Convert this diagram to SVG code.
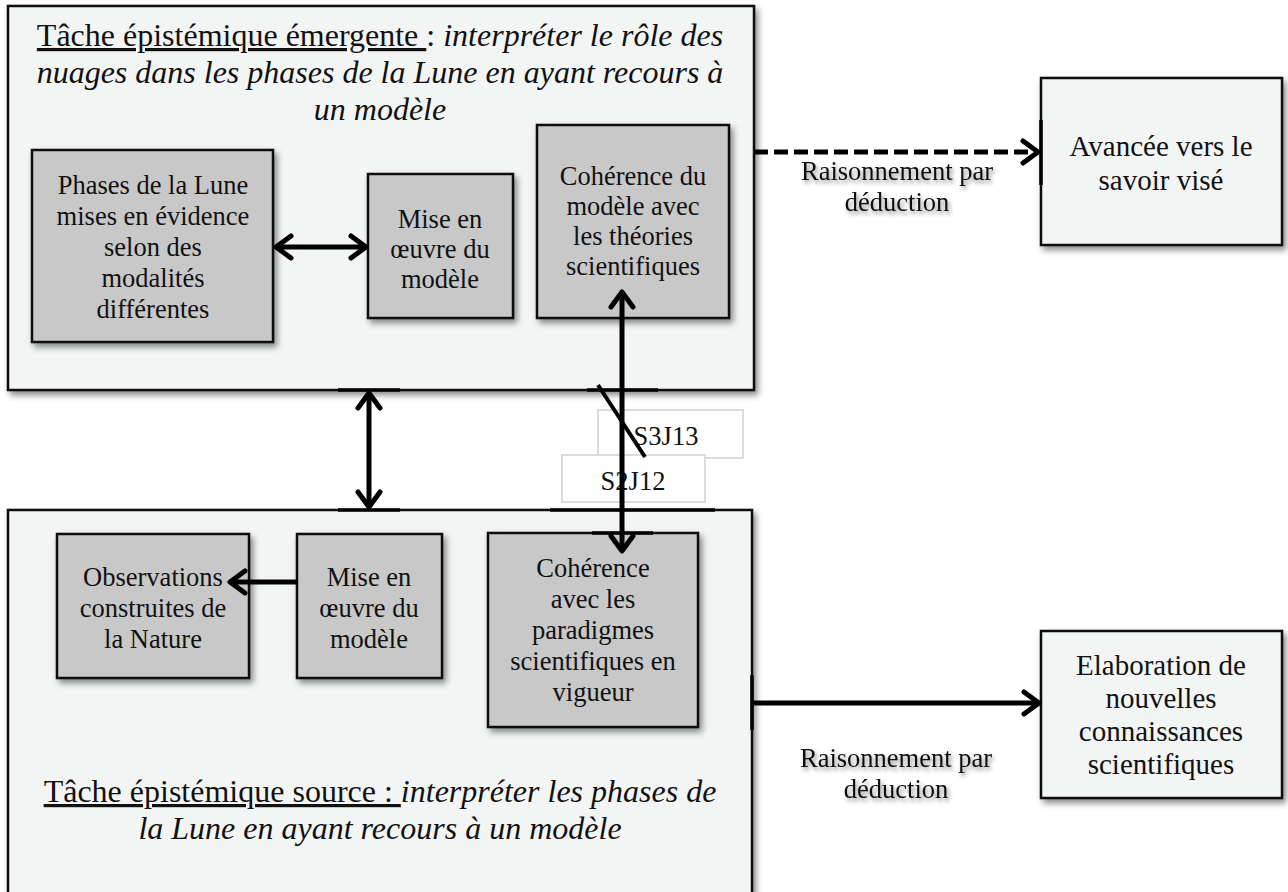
<svg xmlns="http://www.w3.org/2000/svg" width="1288" height="892" viewBox="0 0 1288 892">
<style>
  .big{fill:#f3f5f5;stroke:#111;stroke-width:2.5}
  .inner{fill:#c8c8c8;stroke:#111;stroke-width:2.5}
  .lbl{fill:#fff;stroke:#dcdcdc;stroke-width:2}
  text{font-family:"Liberation Serif","Times New Roman",serif;fill:#111;text-anchor:middle}
  .t32{font-size:32px}
  .t26{font-size:26.5px}
  .t29{font-size:29px}
  .it{font-style:italic}
  .ul{text-decoration:underline}
  .conn{stroke:#000;stroke-width:5;fill:none}
  .thick{stroke:#000;stroke-width:3.5}
</style>
<defs>
  <filter id="sh" x="-10%" y="-10%" width="125%" height="125%">
    <feDropShadow dx="3" dy="4" stdDeviation="3" flood-color="#000" flood-opacity="0.45"/>
  </filter>
  <filter id="tsh" x="-10%" y="-30%" width="130%" height="180%">
    <feDropShadow dx="2" dy="3" stdDeviation="2" flood-color="#000" flood-opacity="0.45"/>
  </filter>
  <marker id="arr" markerUnits="userSpaceOnUse" markerWidth="24" markerHeight="30" viewBox="0 0 24 30" refX="19" refY="15" orient="auto-start-reverse">
    <path d="M4,4 L19,15 L4,26" fill="none" stroke="#000" stroke-width="5" stroke-linecap="round" stroke-linejoin="round"/>
  </marker>
</defs>

<g id="emergent-task">
  <rect class="big" x="8" y="6" width="746" height="384" filter="url(#sh)"/>
  <text class="t32" x="380" y="46"><tspan class="ul">Tâche épistémique émergente </tspan>: <tspan class="it">interpréter le rôle des</tspan></text>
  <text class="t32 it" x="380" y="83">nuages dans les phases de la Lune en ayant recours à</text>
  <text class="t32 it" x="380" y="120">un modèle</text>
</g>

<g id="phases-lune">
  <rect class="inner" x="32" y="150" width="241" height="192" filter="url(#sh)"/>
  <text class="t26" x="153" y="194">Phases de la Lune</text>
  <text class="t26" x="153" y="225">mises en évidence</text>
  <text class="t26" x="153" y="256">selon des</text>
  <text class="t26" x="153" y="287">modalités</text>
  <text class="t26" x="153" y="318">différentes</text>
</g>

<g id="mise-en-oeuvre-haut">
  <rect class="inner" x="368" y="174" width="145" height="144" filter="url(#sh)"/>
  <text class="t26" x="440" y="228">Mise en</text>
  <text class="t26" x="440" y="258">œuvre du</text>
  <text class="t26" x="440" y="288">modèle</text>
</g>

<g id="coherence-theories">
  <rect class="inner" x="537" y="125" width="192" height="193" filter="url(#sh)"/>
  <text class="t26" x="633" y="185">Cohérence du</text>
  <text class="t26" x="633" y="215">modèle avec</text>
  <text class="t26" x="633" y="245">les théories</text>
  <text class="t26" x="633" y="275">scientifiques</text>
</g>

<g id="avancee">
  <rect class="big" x="1041" y="78" width="241" height="167" filter="url(#sh)"/>
  <text class="t29" x="1161" y="156">Avancée vers le</text>
  <text class="t29" x="1161" y="190">savoir visé</text>
</g>

<g id="source-task">
  <rect class="big" x="8" y="510" width="744" height="392" filter="url(#sh)"/>
  <text class="t32" x="380" y="802"><tspan class="ul">Tâche épistémique source : </tspan><tspan class="it">interpréter les phases de</tspan></text>
  <text class="t32 it" x="380" y="839">la Lune en ayant recours à un modèle</text>
</g>

<g id="observations">
  <rect class="inner" x="57" y="534" width="192" height="144" filter="url(#sh)"/>
  <text class="t26" x="153" y="586">Observations</text>
  <text class="t26" x="153" y="617">construites de</text>
  <text class="t26" x="153" y="648">la Nature</text>
</g>

<g id="mise-en-oeuvre-bas">
  <rect class="inner" x="297" y="534" width="145" height="144" filter="url(#sh)"/>
  <text class="t26" x="369" y="586">Mise en</text>
  <text class="t26" x="369" y="617">œuvre du</text>
  <text class="t26" x="369" y="648">modèle</text>
</g>

<g id="coherence-paradigmes">
  <rect class="inner" x="488" y="533" width="210" height="194" filter="url(#sh)"/>
  <text class="t26" x="593" y="577">Cohérence</text>
  <text class="t26" x="593" y="608">avec les</text>
  <text class="t26" x="593" y="639">paradigmes</text>
  <text class="t26" x="593" y="670">scientifiques en</text>
  <text class="t26" x="593" y="701">vigueur</text>
</g>

<g id="elaboration">
  <rect class="big" x="1041" y="631" width="241" height="167" filter="url(#sh)"/>
  <text class="t29" x="1161" y="675">Elaboration de</text>
  <text class="t29" x="1161" y="708">nouvelles</text>
  <text class="t29" x="1161" y="741">connaissances</text>
  <text class="t29" x="1161" y="774">scientifiques</text>
</g>

<g id="label-s3j13">
  <rect class="lbl" x="598" y="410" width="145" height="48"/>
  <text class="t26" x="666" y="445">S3J13</text>
</g>
<g id="label-s2j12">
  <rect class="lbl" x="562" y="455" width="143" height="47"/>
  <text class="t26" x="633" y="490">S2J12</text>
</g>

<g id="connectors">
  <line class="thick" x1="338" y1="390" x2="400" y2="390"/>
  <line class="thick" x1="338" y1="510" x2="400" y2="510"/>
  <line class="thick" x1="587" y1="390" x2="658" y2="390"/>
  <line class="thick" x1="550" y1="510" x2="715" y2="510"/>
  <line class="thick" x1="592" y1="533" x2="653" y2="533"/>
  <line class="thick" x1="1041" y1="120" x2="1041" y2="185"/>
  <line class="thick" x1="752" y1="675" x2="752" y2="730"/>
  <line class="conn" x1="276" y1="247" x2="366" y2="247" marker-start="url(#arr)" marker-end="url(#arr)"/>
  <line class="conn" x1="622" y1="292" x2="622" y2="551" marker-start="url(#arr)" marker-end="url(#arr)"/>
  <line class="conn" x1="369" y1="393" x2="369" y2="507" marker-start="url(#arr)" marker-end="url(#arr)"/>
  <line class="conn" x1="297" y1="582" x2="230" y2="582" marker-end="url(#arr)"/>
  <line class="conn" x1="754" y1="152" x2="1038" y2="152" stroke-dasharray="14 6" marker-end="url(#arr)"/>
  <line class="conn" x1="752" y1="703" x2="1039" y2="703" marker-end="url(#arr)"/>
  <line stroke="#000" stroke-width="4" x1="598" y1="385" x2="645" y2="457"/>
  <g filter="url(#tsh)">
    <text class="t26" x="897" y="180">Raisonnement par</text>
    <text class="t26" x="897" y="211">déduction</text>
    <text class="t26" x="896" y="767">Raisonnement par</text>
    <text class="t26" x="896" y="798">déduction</text>
  </g>
</g>
</svg>
